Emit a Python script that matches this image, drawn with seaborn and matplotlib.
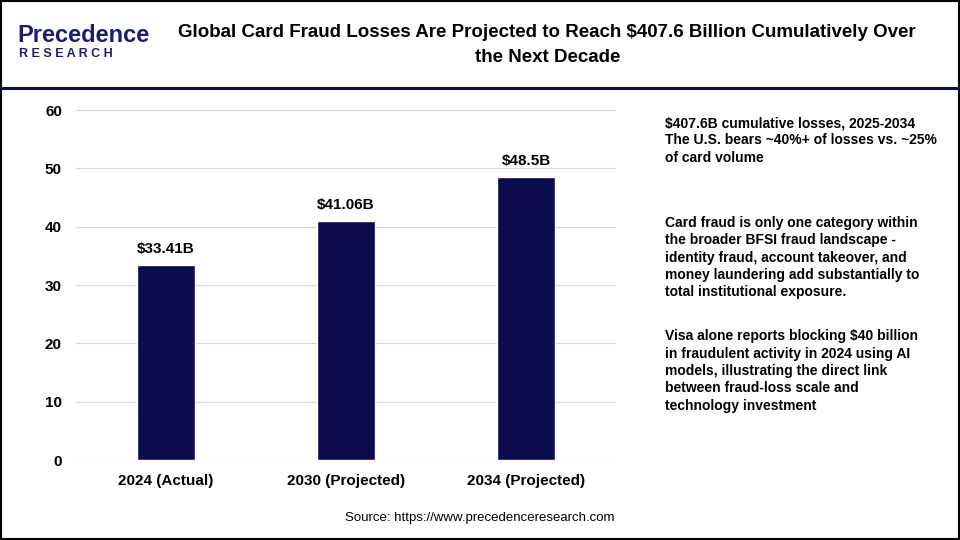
import matplotlib
matplotlib.use("Agg")
import matplotlib.pyplot as plt
import seaborn as sns
import pandas as pd
from matplotlib.patches import Rectangle
from matplotlib.lines import Line2D

categories = ["2024 (Actual)", "2030 (Projected)", "2034 (Projected)"]
values = [33.41, 41.06, 48.5]
labels = ["$33.41B", "$41.06B", "$48.5B"]
yticks = [0, 10, 20, 30, 40, 50, 60]

sns.set_style("white")
plt.rcParams['font.family'] = ['Liberation Sans', 'DejaVu Sans']
plt.rcParams['text.color'] = 'black'
plt.rcParams['xtick.color'] = 'black'
plt.rcParams['ytick.color'] = 'black'
fig = plt.figure(figsize=(9.6, 5.4), dpi=100)
ax = fig.add_axes([0.079, 0.148, 0.563, 0.648])
df = pd.DataFrame({"cat": categories, "val": values})
sns.barplot(data=df, x="cat", y="val", color="#0b0b4d", width=0.32, ax=ax, saturation=1, zorder=3)
for i, (v, l) in enumerate(zip(values, labels)):
    ax.text(i, v + 1.5, l, ha="center", va="bottom", fontsize=11, fontweight="bold")
ax.set_ylim(0, 60)
ax.set_xlim(-0.5, 2.5)
ax.set_yticks(yticks)
ax.grid(axis="y", color="#d9d9d9", linewidth=0.8, zorder=0)
for s in ax.spines.values():
    s.set_visible(False)
ax.set_xlabel(""); ax.set_ylabel("")
ax.tick_params(axis="both", length=0, labelsize=11, pad=10)
for t in ax.get_xticklabels() + ax.get_yticklabels():
    t.set_fontweight("bold")

fig.text(0.57, 0.955, "Global Card Fraud Losses Are Projected to Reach $407.6 Billion Cumulatively Over\nthe Next Decade",
         ha="center", va="top", fontsize=13.5, fontweight="bold", linespacing=1.6)
fig.text(0.018, 0.935, "Precedence", fontsize=17, color="#1b1f6b", fontweight="bold", va="center")
fig.text(0.02, 0.9, "R E S E A R C H", fontsize=9, color="#1b1f6b", fontweight="bold", va="center")
fig.add_artist(Line2D([0, 1], [0.837, 0.837], color="#0b0b4d", linewidth=2.2, transform=fig.transFigure))
fig.add_artist(Rectangle((0.001, 0.001), 0.998, 0.998, fill=False, edgecolor="black", linewidth=1.5, transform=fig.transFigure))

fs = 10
fig.text(0.693, 0.785, "$407.6B cumulative losses, 2025-2034\nThe U.S. bears ~40%+ of losses vs. ~25%\nof card volume",
         ha="left", va="top", fontsize=fs, fontweight="bold", linespacing=1.3)
fig.text(0.693, 0.6, "Card fraud is only one category within\nthe broader BFSI fraud landscape -\nidentity fraud, account takeover, and\nmoney laundering add substantially to\ntotal institutional exposure.",
         ha="left", va="top", fontsize=fs, fontweight="bold", linespacing=1.3)
fig.text(0.693, 0.39, "Visa alone reports blocking $40 billion\nin fraudulent activity in 2024 using AI\nmodels, illustrating the direct link\nbetween fraud-loss scale and\ntechnology investment",
         ha="left", va="top", fontsize=fs, fontweight="bold", linespacing=1.3)
fig.text(0.5, 0.04, "Source: https://www.precedenceresearch.com", ha="center", va="center", fontsize=9.5)
fig.savefig("out.png", dpi=100)
